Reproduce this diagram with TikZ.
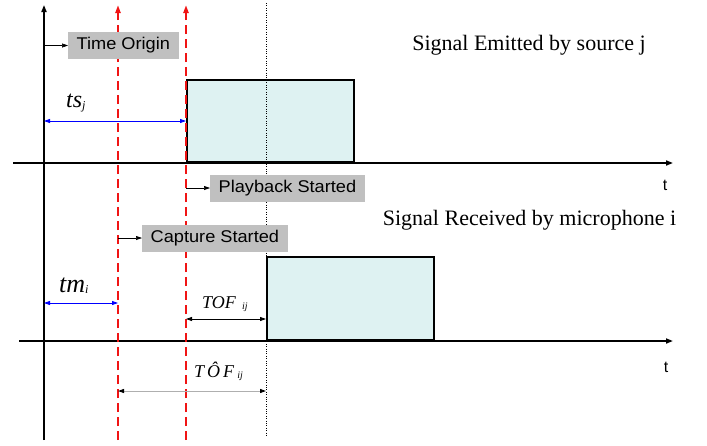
\documentclass[tikz,border=0pt]{standalone}
\usepackage{fontspec}
\setmainfont{Liberation Serif}
\newfontfamily\boxfont[FakeStretch=1.07]{Liberation Sans}
\newfontfamily\tfont{Liberation Sans}
\usetikzlibrary{arrows.meta}
\definecolor{boxgray}{RGB}{192,192,192}
\definecolor{sigfill}{RGB}{222,242,242}
\definecolor{redline}{RGB}{240,20,20}
\definecolor{dimgray}{RGB}{175,175,175}
\newcommand{\lowsub}[2]{\raisebox{-#1}{\fontsize{12}{14}\selectfont\textit{#2}}}
\begin{document}
\begin{tikzpicture}[x=1pt,y=-1pt,
  axisline/.style={line width=1.6pt,-{Triangle[length=7pt,width=5pt]}},
  reddash/.style={redline,line width=2pt,dash pattern=on 9pt off 5pt,-{Triangle[length=8pt,width=5pt]}},
  dotline/.style={line width=0.6pt,dash pattern=on 1pt off 1.4pt},
  tagbox/.style={fill=boxgray,font=\boxfont\fontsize{17}{20}\selectfont,minimum height=27pt,inner xsep=8.5pt,inner ysep=0pt,anchor=west},
  tagarrow/.style={line width=0.6pt,-{Triangle[length=6pt,width=4pt]}},
  bluedim/.style={blue,line width=0.8pt,{Triangle[length=6pt,width=4pt]}-{Triangle[length=6pt,width=4pt]}},
  blackdim/.style={black,line width=0.8pt,{Triangle[length=6pt,width=4pt]}-{Triangle[length=6pt,width=4pt]}},
  graydim/.style={dimgray,line width=1pt,{Triangle[length=6pt,width=4pt,black]}-{Triangle[length=6pt,width=4pt,black]}},
  sigbox/.style={draw,line width=1.8pt,fill=sigfill,anchor=south west,inner sep=0pt},
  sertext/.style={font=\fontsize{22}{26}\selectfont,anchor=base},
  tlabel/.style={font=\tfont\fontsize{16}{19}\selectfont},
  mathlbl/.style={anchor=base west,inner sep=0pt}]
\useasboundingbox (0,0) rectangle (707,445);

% signal rectangles
\node[sigbox,minimum width=167pt,minimum height=82pt] (emit) at (186,163) {};
\node[sigbox,minimum width=167pt,minimum height=83pt] (recv) at (266,341) {};

% axes
\coordinate (v0) at (44,440);
\coordinate (v1) at (44,5);
\draw[axisline] (v0) -- (v1);
\coordinate (h0) at (13,163);
\coordinate (h1) at (673,163);
\draw[axisline] (h0) -- (h1);
\coordinate (g0) at (19,341);
\coordinate (g1) at (673,341);
\draw[axisline] (g0) -- (g1);

% vertical markers
\coordinate (c0) at (118,440);
\coordinate (c1) at (118,5);
\draw[reddash] (c0) -- (c1);
\coordinate (p0) at (186,440);
\coordinate (p1) at (186,5);
\draw[reddash] (p0) -- (p1);
\coordinate (d0) at (266,3);
\coordinate (d1) at (266,437);
\draw[dotline] (d0) -- (d1);

% tags
\node[tagbox] (origin) at (68,45.5) {Time Origin};
\coordinate (oa) at (44,45.5);
\draw[tagarrow] (oa) -- (origin.west);
\node[tagbox] (play) at (210,188) {Playback Started};
\coordinate (pa) at (186,188);
\draw[tagarrow] (pa) -- (play.west);
\node[tagbox] (capt) at (142,238) {Capture Started};
\coordinate (ca) at (118,238);
\draw[tagarrow] (ca) -- (capt.west);

% dimensions
\coordinate (ts0) at (44,121);
\coordinate (ts1) at (186,121);
\draw[bluedim] (ts0) -- (ts1);
\coordinate (tm0) at (44,303);
\coordinate (tm1) at (118,303);
\draw[bluedim] (tm0) -- (tm1);
\coordinate (tof0) at (186,319);
\coordinate (tof1) at (266,319);
\draw[blackdim] (tof0) -- (tof1);
\coordinate (est0) at (118,391);
\coordinate (est1) at (266,391);
\draw[graydim] (est0) -- (est1);

% dimension labels
\node[mathlbl,font=\fontsize{24}{28}\selectfont] (tslbl) at (66,107) {\textit{ts}\lowsub{2pt}{j}};
\node[mathlbl,font=\fontsize{26}{30}\selectfont] (tmlbl) at (59,292) {\textit{tm}\lowsub{1pt}{i}};
\node[mathlbl,font=\fontsize{18}{22}\selectfont] (toflbl) at (202,308) {\textit{TOF}\,\,\raisebox{-1pt}{\fontsize{10}{12}\selectfont\textit{ij}}};
\node[mathlbl,font=\fontsize{18}{22}\selectfont] (estlbl) at (194,377) {\textit{T\,Ô\,F}\,\raisebox{-1pt}{\fontsize{10}{12}\selectfont\textit{ij}}};

% axis labels
\node[tlabel] (t1) at (665,185) {t};
\node[tlabel] (t2) at (666,367) {t};

% titles
\node[sertext] (title1) at (529,50) {Signal Emitted by source j};
\node[sertext] (title2) at (529.5,225) {Signal Received by microphone i};
\end{tikzpicture}
\end{document}
